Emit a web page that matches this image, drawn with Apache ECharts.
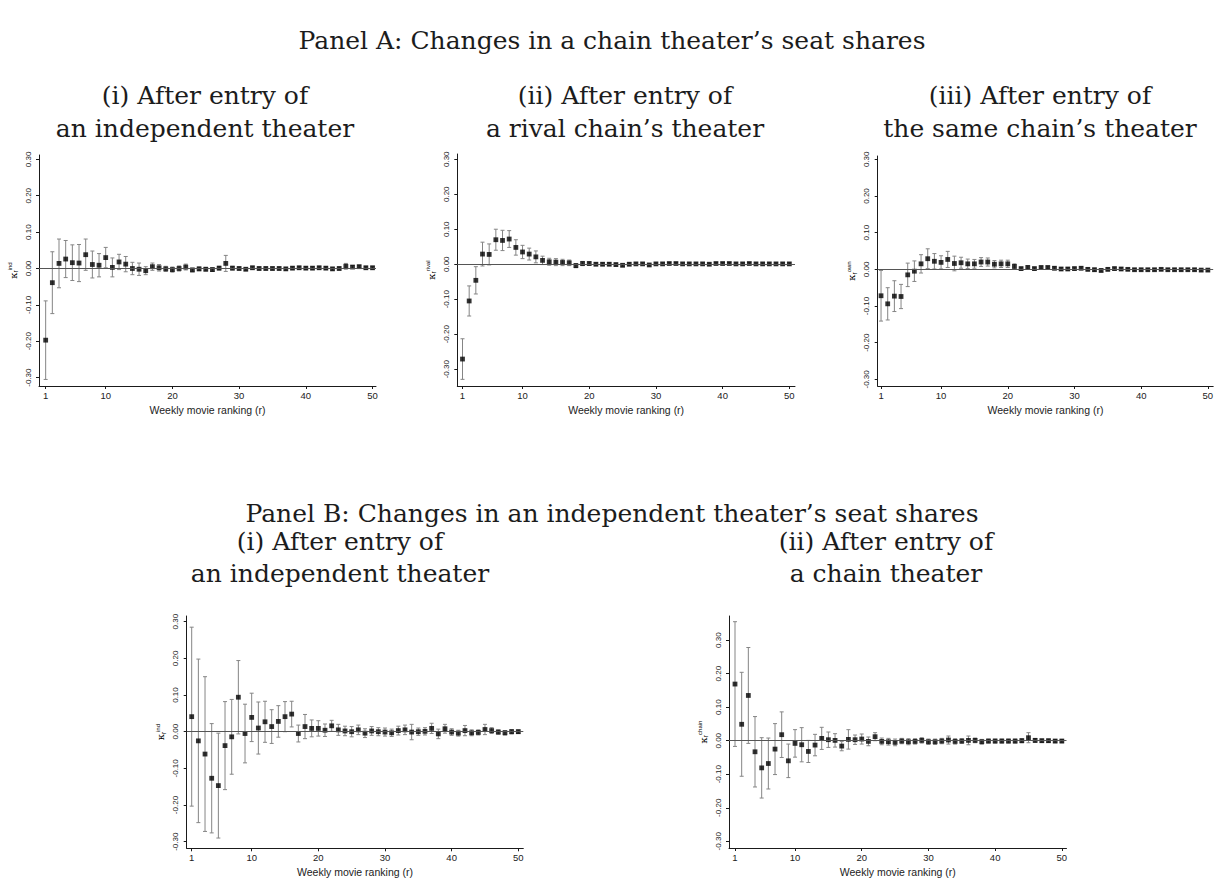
<!DOCTYPE html>
<html>
<head>
<meta charset="utf-8">
<script src="https://cdn.jsdelivr.net/npm/echarts@6/dist/echarts.min.js"></script>
<style>
html,body{margin:0;padding:0;background:#fff;}
#chart{width:1225px;height:878px;}
</style>
</head>
<body>
<div id="chart"></div>
<script>
// ---------- data ----------
const ranks = [1,2,3,4,5,6,7,8,9,10,11,12,13,14,15,16,17,18,19,20,21,22,23,24,25,26,27,28,29,30,31,32,33,34,35,36,37,38,39,40,41,42,43,44,45,46,47,48,49,50];
const xTicks = [1,10,20,30,40,50];
const yTicks = [-0.3,-0.2,-0.1,0,0.1,0.2,0.3];
const xTitle = 'Weekly movie ranking (r)';

// Panel A(i): chain theater, entry of independent
const aIndEst = [-0.197,-0.039,0.014,0.026,0.016,0.015,0.038,0.011,0.009,0.030,
  0.003,0.018,0.012,0.000,-0.002,-0.006,0.005,0.002,-0.001,-0.003,
  0.000,0.004,-0.004,-0.001,-0.002,-0.003,0.001,0.014,0.001,0.000,
  -0.002,0.002,0.000,0.000,0.000,0.000,-0.001,0.001,0.002,0.001,
  0.001,0.002,0.001,-0.001,0.000,0.006,0.004,0.005,0.002,0.002];
const aIndHw = [0.108,0.085,0.067,0.051,0.049,0.051,0.043,0.037,0.032,0.028,
  0.026,0.021,0.021,0.017,0.017,0.011,0.010,0.009,0.007,0.007,
  0.007,0.008,0.005,0.005,0.005,0.005,0.005,0.022,0.005,0.004,
  0.004,0.004,0.004,0.004,0.004,0.004,0.004,0.004,0.004,0.004,
  0.004,0.004,0.004,0.004,0.004,0.008,0.004,0.004,0.004,0.004];

// Panel A(ii): chain theater, entry of rival chain
const aRivalEst = [-0.271,-0.105,-0.046,0.029,0.028,0.070,0.068,0.072,0.048,0.035,
  0.029,0.021,0.011,0.007,0.006,0.005,0.004,-0.004,0.002,0.002,
  0.000,0.000,0.000,-0.001,-0.003,0.000,0.001,0.001,-0.002,0.001,
  0.001,0.002,0.002,0.001,0.001,0.001,0.001,0.000,0.002,0.002,
  0.002,0.001,0.001,0.002,0.001,0.001,0.001,0.001,0.001,0.001];
const aRivalHw = [0.058,0.043,0.039,0.034,0.030,0.030,0.029,0.024,0.022,0.019,
  0.017,0.017,0.012,0.010,0.010,0.009,0.008,0.006,0.006,0.005,
  0.004,0.004,0.004,0.004,0.004,0.004,0.003,0.003,0.003,0.003,
  0.003,0.003,0.003,0.003,0.003,0.003,0.003,0.003,0.003,0.003,
  0.003,0.003,0.003,0.003,0.003,0.003,0.003,0.003,0.003,0.003];

// Panel A(iii): chain theater, entry of same chain
const aOwnEst = [-0.072,-0.094,-0.073,-0.074,-0.015,-0.005,0.015,0.029,0.022,0.019,
  0.027,0.016,0.018,0.015,0.015,0.020,0.020,0.014,0.015,0.015,
  0.008,0.002,0.005,0.002,0.005,0.005,0.003,0.001,0.001,0.002,
  0.003,0.000,-0.001,-0.003,0.000,0.002,0.001,0.000,-0.001,-0.001,
  -0.001,-0.001,0.000,-0.001,-0.001,-0.001,-0.001,-0.001,-0.002,-0.002];
const aOwnHw = [0.069,0.044,0.042,0.033,0.032,0.028,0.025,0.027,0.021,0.018,
  0.022,0.020,0.015,0.013,0.012,0.012,0.011,0.010,0.010,0.010,
  0.007,0.004,0.005,0.004,0.004,0.004,0.004,0.004,0.004,0.004,
  0.004,0.004,0.004,0.004,0.004,0.004,0.004,0.003,0.003,0.003,
  0.003,0.003,0.003,0.003,0.003,0.003,0.003,0.003,0.003,0.003];

// Panel B(i): independent theater, entry of independent
const bIndEst = [0.041,-0.025,-0.061,-0.127,-0.147,-0.038,-0.014,0.094,-0.005,0.039,
  0.010,0.027,0.014,0.028,0.041,0.048,-0.005,0.014,0.009,0.009,
  0.004,0.016,0.005,0.002,0.000,0.005,-0.004,0.002,0.000,-0.001,
  -0.003,0.003,0.005,-0.001,0.000,0.001,0.009,-0.006,0.008,-0.001,
  -0.004,0.003,-0.003,-0.002,0.006,0.003,-0.001,-0.003,0.000,0.000];
const bIndHw = [0.244,0.223,0.211,0.149,0.143,0.120,0.102,0.100,0.080,0.066,
  0.071,0.056,0.046,0.043,0.041,0.035,0.023,0.033,0.023,0.021,
  0.017,0.015,0.015,0.013,0.014,0.013,0.012,0.012,0.011,0.011,
  0.010,0.012,0.013,0.021,0.010,0.010,0.014,0.013,0.012,0.009,
  0.008,0.014,0.008,0.007,0.014,0.008,0.006,0.006,0.006,0.005];

// Panel B(ii): independent theater, entry of chain
const bChainEst = [0.169,0.049,0.135,-0.033,-0.081,-0.068,-0.025,0.018,-0.060,-0.008,
  -0.012,-0.032,-0.013,0.007,0.003,0.001,-0.016,0.004,0.003,0.005,
  -0.002,0.012,-0.002,-0.003,-0.005,-0.001,-0.003,-0.002,0.001,-0.003,
  -0.003,-0.001,0.002,-0.002,-0.001,0.001,0.001,-0.003,-0.001,-0.001,
  -0.001,-0.001,-0.001,0.000,0.009,0.001,0.000,0.000,-0.001,-0.001];
const bChainHw = [0.186,0.155,0.143,0.105,0.090,0.076,0.076,0.068,0.050,0.041,
  0.051,0.033,0.032,0.033,0.023,0.020,0.014,0.029,0.014,0.015,
  0.013,0.012,0.010,0.010,0.010,0.008,0.009,0.008,0.008,0.008,
  0.008,0.008,0.012,0.008,0.007,0.013,0.007,0.007,0.006,0.006,
  0.006,0.006,0.006,0.006,0.015,0.006,0.005,0.005,0.005,0.005];

// ---------- layout / style ----------
const ERR = '#858585';
const AXIS = '#1a1a1a';
const TEXTC = '#222';
const panels = [
  {est:aIndEst,   hw:aIndHw,   sup:'ind',   grid:{left:39,   top:155, width:337,   height:231},   x:[0.0,50.52], y:[-0.323,0.312]},
  {est:aRivalEst, hw:aRivalHw, sup:'rival', grid:{left:457.3,top:154, width:337.7, height:232},   x:[0.22,50.85], y:[-0.348,0.315]},
  {est:aOwnEst,   hw:aOwnHw,   sup:'own',   grid:{left:877.7,top:156, width:335.5, height:230},   x:[0.5,50.8],  y:[-0.318,0.309]},
  {est:bIndEst,   hw:bIndHw,   sup:'ind',   grid:{left:186.7,top:616, width:336.6, height:232.3}, x:[0.25,50.75], y:[-0.318,0.3155]},
  {est:bChainEst, hw:bChainHw, sup:'chain', grid:{left:729,  top:616, width:337.5, height:232},   x:[0.1,50.7],  y:[-0.320,0.372]}
];

const titles = [
  {t:'Panel A: Changes in a chain theater\u2019s seat shares', x:612, y:40},
  {t:'(i) After entry of', x:205, y:95},
  {t:'an independent theater', x:205, y:128},
  {t:'(ii) After entry of', x:625, y:95},
  {t:'a rival chain\u2019s theater', x:625, y:128},
  {t:'(iii) After entry of', x:1040, y:95},
  {t:'the same chain\u2019s theater', x:1040, y:128},
  {t:'Panel B: Changes in an independent theater\u2019s seat shares', x:612, y:513},
  {t:'(i) After entry of', x:340, y:541},
  {t:'an independent theater', x:340, y:573},
  {t:'(ii) After entry of', x:886, y:541},
  {t:'a chain theater', x:886, y:573}
];

function errRender(params, api) {
  const x = api.value(0), lo = api.value(1), hi = api.value(2);
  const p1 = api.coord([x, lo]), p2 = api.coord([x, hi]);
  const c = 2;
  const st = {stroke: ERR, lineWidth: 1};
  return {type:'group', children:[
    {type:'line', shape:{x1:p1[0], y1:p1[1], x2:p2[0], y2:p2[1]}, style:st},
    {type:'line', shape:{x1:p1[0]-c, y1:p1[1], x2:p1[0]+c, y2:p1[1]}, style:st},
    {type:'line', shape:{x1:p2[0]-c, y1:p2[1], x2:p2[0]+c, y2:p2[1]}, style:st}
  ]};
}

const grids = [], xAxes = [], yAxes = [], series = [];
panels.forEach((p, i) => {
  grids.push(Object.assign({outerBoundsMode:'none', containLabel:false}, p.grid));
  xAxes.push({
    type:'value', gridIndex:i, min:p.x[0], max:p.x[1],
    name:xTitle, nameLocation:'middle', nameGap:18,
    nameTextStyle:{fontFamily:'Liberation Sans, Arial', fontSize:10.5, color:TEXTC},
    axisLine:{show:true, onZero:false, lineStyle:{color:AXIS, width:1}},
    axisTick:{show:true, length:3, customValues:xTicks, lineStyle:{color:AXIS}},
    axisLabel:{show:true, margin:4, customValues:xTicks, fontFamily:'Liberation Sans, Arial', fontSize:9.5, color:TEXTC,
      formatter:v => String(Math.round(v))},
    splitLine:{show:false}
  });
  yAxes.push({
    type:'value', gridIndex:i, min:p.y[0], max:p.y[1],
    name:'{k|\u03ba}{s|r}{p|' + p.sup + '}', nameLocation:'middle', nameRotate:90, nameGap:20,
    nameTextStyle:{color:'#000', rich:{
      k:{fontFamily:'DejaVu Serif', fontSize:10, color:'#000'},
      s:{fontFamily:'Liberation Sans, Arial', fontSize:6.5, color:'#000', verticalAlign:'bottom'},
      p:{fontFamily:'Liberation Sans, Arial', fontSize:6, color:'#000', verticalAlign:'top', padding:[0,0,6,0]}
    }},
    axisLine:{show:true, onZero:false, lineStyle:{color:AXIS, width:1}},
    axisTick:{show:true, length:3, customValues:yTicks, lineStyle:{color:AXIS}},
    axisLabel:{show:true, margin:7, rotate:90, customValues:yTicks, fontFamily:'Liberation Sans, Arial', fontSize:8, color:TEXTC,
      formatter:v => (Math.abs(v) < 1e-9 ? 0 : v).toFixed(2)},
    splitLine:{show:false}
  });
  const errData = ranks.map((r, j) => [r, p.est[j] - p.hw[j], p.est[j] + p.hw[j]]);
  const ptData = ranks.map((r, j) => [r, p.est[j]]);
  series.push({
    type:'custom', xAxisIndex:i, yAxisIndex:i, renderItem:errRender, data:errData,
    encode:{x:0, y:[1,2]}, silent:true, z:2, animation:false,
    markLine:{silent:true, symbol:['none','none'], label:{show:false},
      lineStyle:{color:'#555', width:1, type:'solid'}, data:[{yAxis:0}], animation:false}
  });
  series.push({
    type:'scatter', xAxisIndex:i, yAxisIndex:i, data:ptData, symbol:'rect', symbolSize:4.8,
    itemStyle:{color:'#000'}, z:3, silent:true, animation:false
  });
});

const graphic = titles.map(o => ({
  type:'text', x:o.x, y:o.y, silent:true,
  style:{text:o.t, fontFamily:'DejaVu Serif', fontSize:25, fill:'#1c1c1c', textAlign:'center', textVerticalAlign:'middle'}
}));

const chart = echarts.init(document.getElementById('chart'), null, {renderer:'svg', width:1225, height:878});
chart.setOption({
  backgroundColor:'#fff',
  animation:false,
  grid:grids, xAxis:xAxes, yAxis:yAxes, series:series, graphic:graphic
});
</script>
</body>
</html>
